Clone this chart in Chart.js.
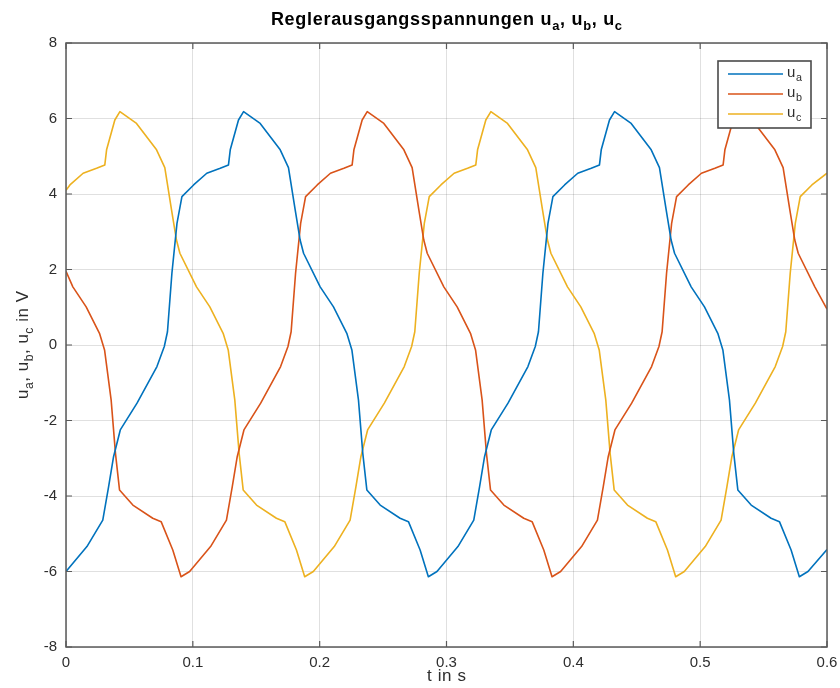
<!DOCTYPE html>
<html>
<head>
<meta charset="utf-8">
<script src="https://cdn.jsdelivr.net/npm/chart.js@4.4.1/dist/chart.umd.min.js"></script>
<style>
html,body{margin:0;padding:0;background:#ffffff;}
#wrap{width:840px;height:688px;position:relative;}
</style>
</head>
<body>
<div id="wrap"><canvas id="c" width="840" height="688"></canvas></div>
<script>
// ---------- data ----------
const titleMain = 'Reglerausgangsspannungen';
const seriesSubs = ['a', 'b', 'c'];
const seriesColors = ['#0072BD', '#D95319', '#EDB120'];
const xAxisLabel = 't in s';
const yAxisLabelEnd = ' in V';

const xTicks = [0, 0.1, 0.2, 0.3, 0.4, 0.5, 0.6];
const xTickLabels = ['0', '0.1', '0.2', '0.3', '0.4', '0.5', '0.6'];
const yTicks = [-8, -6, -4, -2, 0, 2, 4, 6, 8];
const yTickLabels = ['-8', '-6', '-4', '-2', '0', '2', '4', '6', '8'];

const uaT = [0.0000,0.0165,0.0290,0.0336,0.0375,0.0428,0.0560,0.0717,0.0775,0.0800,0.0835,0.0875,0.0914,0.1006,0.1110,0.1216,0.1281,0.1295,0.1360,0.1400,0.1531,0.1689,0.1754,0.1807,0.1846,0.1873,0.2004,0.2109,0.2214,0.2254,0.2306,0.2340,0.2372,0.2477,0.2634,0.2700,0.2792,0.2857,
  0.2925,0.3090,0.3215,0.3261,0.3300,0.3353,0.3485,0.3642,0.3700,0.3725,0.3760,0.3800,0.3839,0.3931,0.4035,0.4141,0.4206,0.4220,0.4285,0.4325,0.4456,0.4614,0.4679,0.4732,0.4771,0.4798,0.4929,0.5034,0.5139,0.5179,0.5231,0.5265,0.5297,0.5402,0.5559,0.5625,0.5717,0.5782,0.5850,0.6000];
const uaV = [-6.00,-5.34,-4.64,-3.75,-2.96,-2.25,-1.54,-0.57,-0.04,0.35,1.90,3.22,3.93,4.24,4.55,4.68,4.77,5.17,5.96,6.18,5.87,5.17,4.70,3.58,2.78,2.43,1.54,1.01,0.31,-0.13,-1.46,-2.87,-3.84,-4.24,-4.59,-4.68,-5.43,-6.14,
  -6.00,-5.34,-4.64,-3.75,-2.96,-2.25,-1.54,-0.57,-0.04,0.35,1.90,3.22,3.93,4.24,4.55,4.68,4.77,5.17,5.96,6.18,5.87,5.17,4.70,3.58,2.78,2.43,1.54,1.01,0.31,-0.13,-1.46,-2.87,-3.84,-4.24,-4.59,-4.68,-5.43,-6.14,-6.00,-5.42];

const ubT = [0.0000,0.0054,0.0159,0.0264,0.0304,0.0356,0.0390,0.0422,0.0527,0.0684,0.0750,0.0842,0.0907,
  0.0975,0.1140,0.1265,0.1311,0.1350,0.1403,0.1535,0.1692,0.1750,0.1775,0.1810,0.1850,0.1889,0.1981,0.2085,0.2191,0.2256,0.2270,0.2335,0.2375,0.2506,0.2664,0.2729,0.2782,0.2821,0.2848,0.2979,0.3084,0.3189,0.3229,0.3281,0.3315,0.3347,0.3452,0.3609,0.3675,0.3767,0.3832,
  0.3900,0.4065,0.4190,0.4236,0.4275,0.4328,0.4460,0.4617,0.4675,0.4700,0.4735,0.4775,0.4814,0.4906,0.5010,0.5116,0.5181,0.5195,0.5260,0.5300,0.5431,0.5589,0.5654,0.5707,0.5746,0.5773,0.5904,0.6000];
const ubV = [1.95,1.54,1.01,0.31,-0.13,-1.46,-2.87,-3.84,-4.24,-4.59,-4.68,-5.43,-6.14,
  -6.00,-5.34,-4.64,-3.75,-2.96,-2.25,-1.54,-0.57,-0.04,0.35,1.90,3.22,3.93,4.24,4.55,4.68,4.77,5.17,5.96,6.18,5.87,5.17,4.70,3.58,2.78,2.43,1.54,1.01,0.31,-0.13,-1.46,-2.87,-3.84,-4.24,-4.59,-4.68,-5.43,-6.14,
  -6.00,-5.34,-4.64,-3.75,-2.96,-2.25,-1.54,-0.57,-0.04,0.35,1.90,3.22,3.93,4.24,4.55,4.68,4.77,5.17,5.96,6.18,5.87,5.17,4.70,3.58,2.78,2.43,1.54,0.95];

const ucT = [0.0000,0.0031,0.0135,0.0241,0.0306,0.0320,0.0385,0.0425,0.0556,0.0714,0.0779,0.0832,0.0871,0.0898,0.1029,0.1134,0.1239,0.1279,0.1331,0.1365,0.1397,0.1502,0.1659,0.1725,0.1817,0.1882,
  0.1950,0.2115,0.2240,0.2286,0.2325,0.2378,0.2510,0.2667,0.2725,0.2750,0.2785,0.2825,0.2864,0.2956,0.3060,0.3166,0.3231,0.3245,0.3310,0.3350,0.3481,0.3639,0.3704,0.3757,0.3796,0.3823,0.3954,0.4059,0.4164,0.4204,0.4256,0.4290,0.4322,0.4427,0.4584,0.4650,0.4742,0.4807,
  0.4875,0.5040,0.5165,0.5211,0.5250,0.5303,0.5435,0.5592,0.5650,0.5675,0.5710,0.5750,0.5789,0.5881,0.6000];
const ucV = [4.10,4.24,4.55,4.68,4.77,5.17,5.96,6.18,5.87,5.17,4.70,3.58,2.78,2.43,1.54,1.01,0.31,-0.13,-1.46,-2.87,-3.84,-4.24,-4.59,-4.68,-5.43,-6.14,
  -6.00,-5.34,-4.64,-3.75,-2.96,-2.25,-1.54,-0.57,-0.04,0.35,1.90,3.22,3.93,4.24,4.55,4.68,4.77,5.17,5.96,6.18,5.87,5.17,4.70,3.58,2.78,2.43,1.54,1.01,0.31,-0.13,-1.46,-2.87,-3.84,-4.24,-4.59,-4.68,-5.43,-6.14,
  -6.00,-5.34,-4.64,-3.75,-2.96,-2.25,-1.54,-0.57,-0.04,0.35,1.90,3.22,3.93,4.24,4.55];

// ---------- chart ----------
const FONT = '"Liberation Sans", Arial, Helvetica, sans-serif';
const TEXT_COLOR = '#2e2e2e';
const AXIS_COLOR = '#5a5a5a';

const toPts = (ts, vs) => ts.map((t, i) => ({ x: t, y: vs[i] }));
const seriesData = [toPts(uaT, uaV), toPts(ubT, ubV), toPts(ucT, ucV)];

function setFont(ctx, p, size, bold) {
  const s = p.sub ? size * 0.72 : size;
  ctx.font = (bold ? 'bold ' : '') + s + 'px ' + FONT;
}
function partsWidth(ctx, parts, size, bold, sp) {
  let w = 0;
  for (const p of parts) {
    setFont(ctx, p, size, bold);
    for (const ch of p.t) w += ctx.measureText(ch).width + sp;
  }
  return w - sp;
}
function drawParts(ctx, parts, x, y, size, bold, align, sp) {
  sp = sp || 0;
  const w = partsWidth(ctx, parts, size, bold, sp);
  let cx = align === 'center' ? x - w / 2 : (align === 'right' ? x - w : x);
  ctx.textAlign = 'left';
  ctx.textBaseline = 'alphabetic';
  for (const p of parts) {
    setFont(ctx, p, size, bold);
    const yy = p.sub ? y + size * 0.28 : y;
    for (const ch of p.t) {
      ctx.fillText(ch, cx, yy);
      cx += ctx.measureText(ch).width + sp;
    }
  }
}
function uParts(sep) {
  const parts = [];
  seriesSubs.forEach((s, i) => {
    parts.push({ t: 'u' });
    parts.push({ t: s, sub: true });
    if (i < seriesSubs.length - 1) parts.push({ t: sep });
  });
  return parts;
}

const decorPlugin = {
  id: 'decor',
  afterDatasetsDraw(chart) {
    const ctx = chart.ctx;
    const a = chart.chartArea;
    const xs = chart.scales.x, ys = chart.scales.y;
    ctx.save();
    // axes box
    ctx.strokeStyle = AXIS_COLOR;
    ctx.lineWidth = 1.5;
    ctx.strokeRect(a.left, a.top, a.right - a.left, a.bottom - a.top);
    // inward ticks on all four sides
    ctx.lineWidth = 1.2;
    const tl = 6;
    ctx.beginPath();
    xTicks.forEach(v => {
      const px = xs.getPixelForValue(v);
      ctx.moveTo(px, a.bottom); ctx.lineTo(px, a.bottom - tl);
      ctx.moveTo(px, a.top); ctx.lineTo(px, a.top + tl);
    });
    yTicks.forEach(v => {
      const py = ys.getPixelForValue(v);
      ctx.moveTo(a.left, py); ctx.lineTo(a.left + tl, py);
      ctx.moveTo(a.right, py); ctx.lineTo(a.right - tl, py);
    });
    ctx.stroke();

    // legend
    const lx = a.right - 109, ly = a.top + 18, lw = 93, lh = 67;
    ctx.fillStyle = '#ffffff';
    ctx.fillRect(lx, ly, lw, lh);
    ctx.strokeStyle = '#4a4a4a';
    ctx.lineWidth = 1.6;
    ctx.strokeRect(lx, ly, lw, lh);
    seriesSubs.forEach((s, i) => {
      const yy = ly + 13 + i * 20;
      ctx.strokeStyle = seriesColors[i];
      ctx.lineWidth = 1.5;
      ctx.beginPath();
      ctx.moveTo(lx + 10, yy); ctx.lineTo(lx + 65, yy);
      ctx.stroke();
      ctx.fillStyle = TEXT_COLOR;
      drawParts(ctx, [{ t: 'u' }, { t: s, sub: true }], lx + 69, yy + 3, 15, false, 'left', 0.6);
    });

    // title
    ctx.fillStyle = '#000000';
    const titleParts = [{ t: titleMain + ' ' }].concat(uParts(', '));
    drawParts(ctx, titleParts, (a.left + a.right) / 2, a.top - 18, 18, true, 'center', 0.7);

    // x axis label
    ctx.fillStyle = TEXT_COLOR;
    drawParts(ctx, [{ t: xAxisLabel }], (a.left + a.right) / 2, 681, 17, false, 'center', 0.6);

    // y axis label (rotated)
    ctx.save();
    ctx.translate(28, (a.top + a.bottom) / 2);
    ctx.rotate(-Math.PI / 2);
    drawParts(ctx, uParts(', ').concat([{ t: yAxisLabelEnd }]), 0, 0, 17, false, 'center', 0.5);
    ctx.restore();
    ctx.restore();
  }
};

new Chart(document.getElementById('c'), {
  type: 'line',
  data: {
    datasets: seriesData.map((d, i) => ({
      label: 'u' + seriesSubs[i],
      data: d,
      borderColor: seriesColors[i],
      backgroundColor: seriesColors[i],
      borderWidth: 1.6,
      pointRadius: 0,
      tension: 0,
      borderJoinStyle: 'round',
      fill: false
    }))
  },
  options: {
    responsive: false,
    animation: false,
    events: [],
    layout: { padding: { top: 43, right: 13, left: 0, bottom: 0 } },
    plugins: { legend: { display: false }, title: { display: false }, tooltip: { enabled: false } },
    scales: {
      x: {
        type: 'linear', min: 0, max: 0.6,
        afterBuildTicks: s => { s.ticks = xTicks.map(v => ({ value: v })); },
        afterFit: s => { s.height = 41; s.paddingLeft = 0; s.paddingRight = 0; },
        grid: { color: 'rgba(0,0,0,0.12)', lineWidth: 1, drawTicks: false },
        border: { display: false },
        ticks: {
          padding: 7, color: TEXT_COLOR, maxRotation: 0, autoSkip: false,
          font: { family: FONT, size: 15 },
          callback: (v, i) => xTickLabels[i]
        }
      },
      y: {
        type: 'linear', min: -8, max: 8,
        afterBuildTicks: s => { s.ticks = yTicks.map(v => ({ value: v })); },
        afterFit: s => { s.width = 66; s.paddingTop = 0; s.paddingBottom = 0; },
        grid: { color: 'rgba(0,0,0,0.12)', lineWidth: 1, drawTicks: false },
        border: { display: false },
        ticks: {
          padding: 9, color: TEXT_COLOR, autoSkip: false,
          font: { family: FONT, size: 15 },
          callback: (v, i) => yTickLabels[i]
        }
      }
    }
  },
  plugins: [decorPlugin]
});
</script>
</body>
</html>
